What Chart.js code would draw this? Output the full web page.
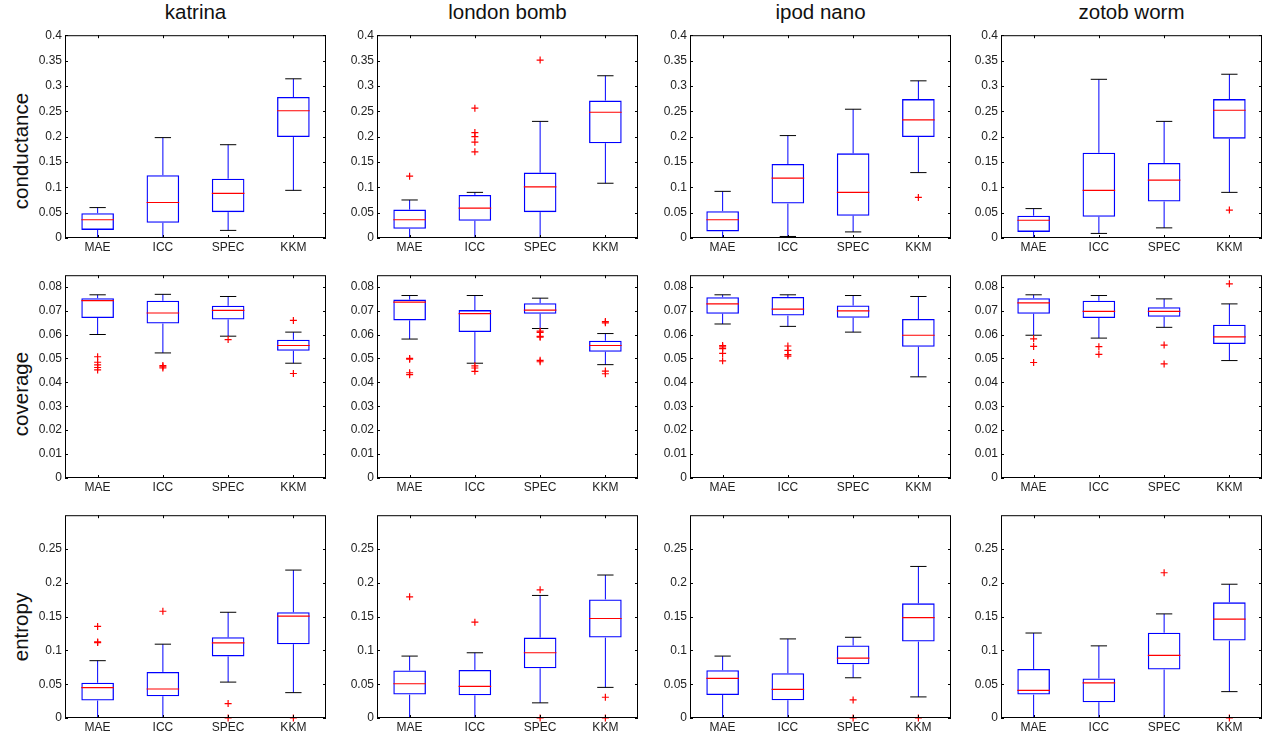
<!DOCTYPE html>
<html lang="en">
<head>
    <meta charset="UTF-8">
    <title>Boxplots</title>
    <script src="https://cdn.jsdelivr.net/npm/chart.js"></script>
    <style>
        body {
            margin: 0;
            width: 1264px;
            height: 736px;
            position: relative;
            overflow: hidden;
            background: #fff;
            font-family: 'Liberation Sans', Arial, sans-serif;
        }
        .panel { position: absolute; }
        .title {
            position: absolute;
            width: 261px;
            text-align: center;
            font-size: 20.5px;
            line-height: 20px;
            color: #111;
            white-space: nowrap;
        }
        .ylabel {
            position: absolute;
            width: 200px;
            text-align: center;
            font-size: 20.5px;
            line-height: 24px;
            color: #111;
            transform: rotate(-90deg);
        }
    </style>
</head>
<body>

<script>
    const methods = ['MAE', 'ICC', 'SPEC', 'KKM'];
    const events = ['katrina', 'london bomb', 'ipod nano', 'zotob worm'];
    const metrics = ['conductance', 'coverage', 'entropy'];

    // one row per method: [lower whisker, q1, median, q3, upper whisker]
    const katrinaConductance = [[0.001, 0.016, 0.036, 0.049, 0.060], [0.001, 0.030, 0.070, 0.124, 0.198], [0.015, 0.051, 0.088, 0.117, 0.184], [0.094, 0.199, 0.251, 0.278, 0.314]];
    const katrinaConductanceOut = [[], [], [], []];
    const londonConductance = [[0.001, 0.018, 0.036, 0.056, 0.075], [0.001, 0.034, 0.059, 0.085, 0.090], [0.001, 0.051, 0.101, 0.129, 0.230], [0.108, 0.187, 0.248, 0.271, 0.320]];
    const londonConductanceOut = [[0.122], [0.256, 0.208, 0.200, 0.189, 0.170], [0.351], []];
    const ipodConductance = [[0.001, 0.013, 0.036, 0.053, 0.092], [0.003, 0.068, 0.118, 0.146, 0.202], [0.012, 0.044, 0.090, 0.167, 0.254], [0.129, 0.199, 0.233, 0.274, 0.310]];
    const ipodConductanceOut = [[], [], [], [0.080]];
    const zotobConductance = [[0.001, 0.012, 0.035, 0.044, 0.058], [0.009, 0.042, 0.094, 0.168, 0.313], [0.020, 0.072, 0.114, 0.148, 0.230], [0.090, 0.196, 0.252, 0.274, 0.323]];
    const zotobConductanceOut = [[], [], [], [0.055]];

    const katrinaCoverage = [[0.0600, 0.0669, 0.0742, 0.0752, 0.0766], [0.0523, 0.0646, 0.0690, 0.0741, 0.0768], [0.0593, 0.0663, 0.0701, 0.0720, 0.0759], [0.0480, 0.0532, 0.0554, 0.0578, 0.0610]];
    const katrinaCoverageOut = [[0.0507, 0.0484, 0.0473, 0.0462, 0.0452], [0.0470, 0.0465, 0.0460], [0.0579], [0.0659, 0.0437]];
    const londonCoverage = [[0.0581, 0.0659, 0.0735, 0.0746, 0.0763], [0.0480, 0.0610, 0.0687, 0.0702, 0.0763], [0.0625, 0.0687, 0.0702, 0.0731, 0.0752], [0.0474, 0.0528, 0.0554, 0.0574, 0.0604]];
    const londonCoverageOut = [[0.0500, 0.0497, 0.0440, 0.0432], [0.0469, 0.0460, 0.0446], [0.0614, 0.0609, 0.0592, 0.0589, 0.0492, 0.0486], [0.0654, 0.0649, 0.0447, 0.0436]];
    const ipodCoverage = [[0.0644, 0.0687, 0.0728, 0.0756, 0.0766], [0.0634, 0.0679, 0.0706, 0.0757, 0.0766], [0.0610, 0.0670, 0.0699, 0.0721, 0.0763], [0.0423, 0.0549, 0.0597, 0.0665, 0.0759]];
    const ipodCoverageOut = [[0.0554, 0.0548, 0.0541, 0.0521, 0.0490], [0.0552, 0.0534, 0.0516, 0.0510], [], []];
    const zotobCoverage = [[0.0597, 0.0687, 0.0732, 0.0752, 0.0766], [0.0585, 0.0669, 0.0697, 0.0741, 0.0763], [0.0630, 0.0674, 0.0697, 0.0714, 0.0749], [0.0491, 0.0560, 0.0590, 0.0641, 0.0728]];
    const zotobCoverageOut = [[0.0582, 0.0550, 0.0483], [0.0549, 0.0517], [0.0556, 0.0477], [0.0812]];

    const katrinaEntropy = [[0, 0.0258, 0.0448, 0.0521, 0.0848], [0, 0.0322, 0.0429, 0.0682, 0.1092], [0.0531, 0.0911, 0.1111, 0.1194, 0.1564], [0.0375, 0.1092, 0.1506, 0.1564, 0.2188]];
    const katrinaEntropyOut = [[0.1355, 0.1126, 0.1116], [0.1579], [0.0214, 0], [0]];
    const londonEntropy = [[0, 0.0346, 0.0507, 0.0702, 0.0916], [0, 0.0336, 0.0468, 0.0711, 0.0965], [0.0224, 0.0736, 0.0965, 0.1189, 0.1813], [0.0453, 0.1189, 0.1472, 0.1754, 0.2115]];
    const londonEntropyOut = [[0.1793], [0.1418], [0.1896, 0], [0.0307, 0]];
    const ipodEntropy = [[0, 0.0341, 0.0585, 0.0707, 0.0916], [0, 0.0263, 0.0424, 0.0663, 0.1170], [0.0595, 0.0794, 0.0887, 0.1072, 0.1194], [0.0312, 0.1131, 0.1486, 0.1696, 0.2242]];
    const ipodEntropyOut = [[], [], [0.0268, 0], [0]];
    const zotobEntropy = [[0, 0.0346, 0.0409, 0.0726, 0.1257], [0, 0.0234, 0.0521, 0.0585, 0.1067], [0, 0.0716, 0.0926, 0.1262, 0.1540], [0.0390, 0.1145, 0.1462, 0.1711, 0.1979]];
    const zotobEntropyOut = [[], [], [0.2149], [0]];

    const conductanceTicks = [0, 0.05, 0.1, 0.15, 0.2, 0.25, 0.3, 0.35, 0.4];
    const coverageTicks = [0, 0.01, 0.02, 0.03, 0.04, 0.05, 0.06, 0.07, 0.08];
    const entropyTicks = [0, 0.05, 0.1, 0.15, 0.2, 0.25];

    const grid = [
        [[katrinaConductance, katrinaConductanceOut], [londonConductance, londonConductanceOut], [ipodConductance, ipodConductanceOut], [zotobConductance, zotobConductanceOut]],
        [[katrinaCoverage, katrinaCoverageOut], [londonCoverage, londonCoverageOut], [ipodCoverage, ipodCoverageOut], [zotobCoverage, zotobCoverageOut]],
        [[katrinaEntropy, katrinaEntropyOut], [londonEntropy, londonEntropyOut], [ipodEntropy, ipodEntropyOut], [zotobEntropy, zotobEntropyOut]],
    ];
    const rowTicks = [conductanceTicks, coverageTicks, entropyTicks];
    const rowMax = [0.4, 0.0848, 0.3];

    // layout of the plot areas
    const colLeft = [65, 377, 690, 1001];
    const rowTop = [33, 273, 513];
    const plotW = 261, plotH = 205;
    const padL = 50, padT = 8, padR = 6, padB = 22;
    const ylabelCenter = [151, 394, 627];

    Chart.defaults.font.family = "'Liberation Sans', Arial, sans-serif";
    Chart.defaults.font.size = 12;
    Chart.defaults.color = '#222';

    const framePlugin = {
        id: 'frame',
        afterDraw(chart) {
            const {ctx, chartArea: a, scales: {x, y}} = chart;
            ctx.save();
            ctx.strokeStyle = '#000';
            ctx.lineWidth = 1;
            ctx.strokeRect(a.left + 0.5, a.top + 0.5, a.right - a.left - 1, a.bottom - a.top - 1);
            ctx.beginPath();
            for (const t of x.ticks) {
                const px = Math.round(x.getPixelForValue(t.value)) + 0.5;
                ctx.moveTo(px, a.top); ctx.lineTo(px, a.top + 3);
                ctx.moveTo(px, a.bottom); ctx.lineTo(px, a.bottom - 3);
            }
            for (const t of y.ticks) {
                const py = Math.round(y.getPixelForValue(t.value)) + 0.5;
                ctx.moveTo(a.left, py); ctx.lineTo(a.left + 3, py);
                ctx.moveTo(a.right, py); ctx.lineTo(a.right - 3, py);
            }
            ctx.stroke();
            ctx.restore();
        }
    };

    function makePanel(row, col) {
        const [stats, outliers] = grid[row][col];
        const div = document.createElement('div');
        div.className = 'panel';
        div.style.left = (colLeft[col] - padL) + 'px';
        div.style.top = (rowTop[row] - padT) + 'px';
        div.style.width = (plotW + padL + padR) + 'px';
        div.style.height = (plotH + padT + padB) + 'px';
        const canvas = document.createElement('canvas');
        div.appendChild(canvas);
        document.body.appendChild(div);

        const boxes = [], whiskers = [], caps = [], medians = [], outs = [];
        stats.forEach((s, i) => {
            const x = i + 1;
            boxes.push({x: x, y: [s[1], s[3]]});
            whiskers.push({x: x, y: s[3]}, {x: x, y: s[4]}, {x: x, y: null});
            whiskers.push({x: x, y: s[0]}, {x: x, y: s[1]}, {x: x, y: null});
            caps.push({x: x - 0.125, y: s[4]}, {x: x + 0.125, y: s[4]}, {x: x, y: null});
            caps.push({x: x - 0.125, y: s[0]}, {x: x + 0.125, y: s[0]}, {x: x, y: null});
            medians.push({x: x - 0.25, y: s[2]}, {x: x + 0.25, y: s[2]}, {x: x, y: null});
            for (const o of outliers[i]) outs.push({x: x, y: o});
        });

        const ticks = rowTicks[row];
        new Chart(canvas, {
            type: 'bar',
            data: {
                datasets: [
                    {type: 'line', data: whiskers, borderColor: '#0000ff', borderWidth: 1, pointRadius: 0, spanGaps: false, order: 3},
                    {type: 'line', data: caps, borderColor: '#000', borderWidth: 1, pointRadius: 0, spanGaps: false, order: 2},
                    {type: 'bar', data: boxes, backgroundColor: 'rgba(0,0,0,0)', borderColor: '#0000ff', borderWidth: 1.3,
                        borderSkipped: false, barPercentage: 0.5, categoryPercentage: 1, order: 4},
                    {type: 'line', data: medians, borderColor: '#ff0000', borderWidth: 1.2, pointRadius: 0, spanGaps: false, order: 1},
                    {type: 'line', data: outs, showLine: false, pointStyle: 'cross', pointRadius: 3.5, clip: false,
                        pointBorderColor: '#ff0000', pointBorderWidth: 1.2, order: 0},
                ]
            },
            options: {
                responsive: true,
                maintainAspectRatio: false,
                animation: false,
                events: [],
                layout: {padding: {left: 0, top: padT, right: padR, bottom: 0}},
                plugins: {legend: {display: false}, tooltip: {enabled: false}},
                scales: {
                    x: {
                        type: 'linear',
                        min: 0.5,
                        max: 4.5,
                        offset: false,
                        grid: {display: false, drawTicks: false, offset: false},
                        border: {display: false},
                        afterBuildTicks: scale => { scale.ticks = methods.map((m, i) => ({value: i + 1})); },
                        afterFit: scale => { scale.height = padB; },
                        ticks: {padding: 2, autoSkip: false, maxRotation: 0, callback: v => methods[v - 1]},
                    },
                    y: {
                        type: 'linear',
                        min: 0,
                        max: rowMax[row],
                        grid: {display: false, drawTicks: false},
                        border: {display: false},
                        afterBuildTicks: scale => { scale.ticks = ticks.map(v => ({value: v})); },
                        afterFit: scale => { scale.width = padL; },
                        ticks: {padding: 3, callback: v => String(+v.toFixed(3))},
                    }
                }
            },
            plugins: [framePlugin]
        });
    }

    events.forEach((name, col) => {
        const t = document.createElement('div');
        t.className = 'title';
        t.textContent = name;
        t.style.left = (colLeft[col] + plotW / 2 - 130.5) + 'px';
        t.style.top = '2px';
        document.body.appendChild(t);
    });

    metrics.forEach((name, row) => {
        const l = document.createElement('div');
        l.className = 'ylabel';
        l.textContent = name;
        l.style.left = (21 - 100) + 'px';
        l.style.top = (ylabelCenter[row] - 12) + 'px';
        document.body.appendChild(l);
    });

    for (let row = 0; row < 3; ++row) {
        for (let col = 0; col < 4; ++col) {
            makePanel(row, col);
        }
    }
</script>
</body>
</html>
